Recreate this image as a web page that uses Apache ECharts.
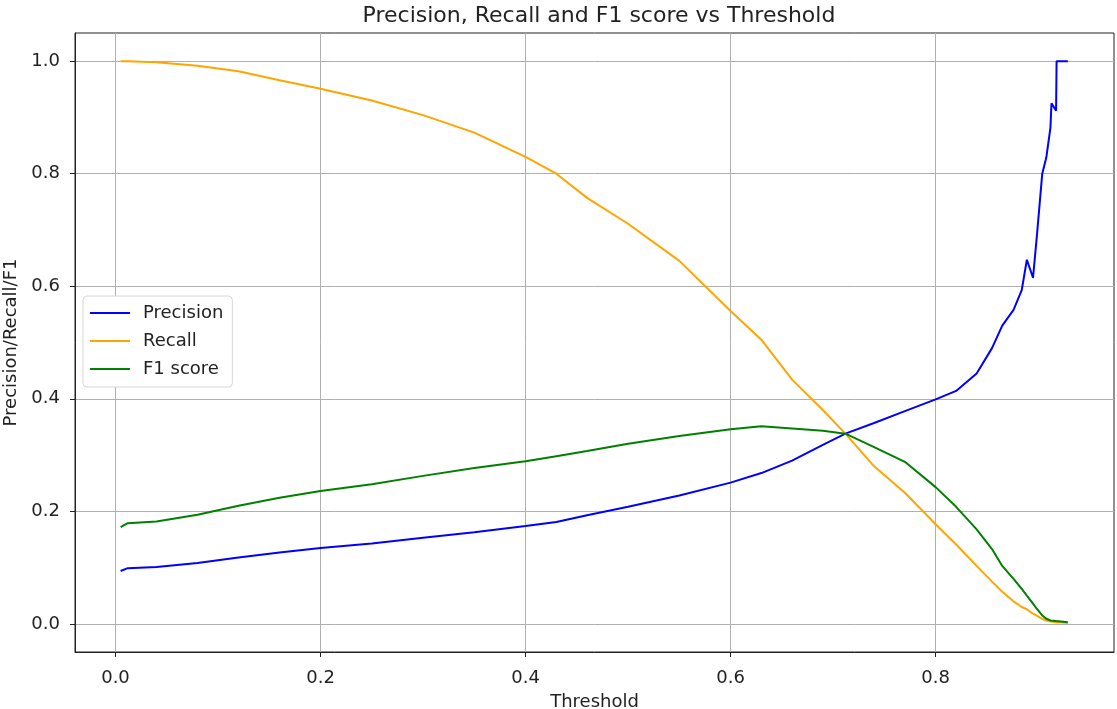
<!DOCTYPE html>
<html>
<head>
<meta charset="utf-8">
<script src="https://cdn.jsdelivr.net/npm/echarts@6/dist/echarts.min.js"></script>
<style>
  html, body { margin: 0; padding: 0; background: #fff; }
  #chart { width: 1117px; height: 709px; }
</style>
</head>
<body>
<div id="chart"></div>
<script>
// thresholds and the three curves
const thresholds = [0.005, 0.012, 0.04, 0.08, 0.12, 0.16, 0.2, 0.25, 0.3, 0.35, 0.4, 0.43, 0.46, 0.5, 0.55, 0.6, 0.63, 0.66, 0.69, 0.712, 0.74, 0.77, 0.8, 0.82, 0.84, 0.855, 0.865, 0.876, 0.884, 0.889, 0.895, 0.899, 0.904, 0.908, 0.912, 0.913, 0.9175, 0.918, 0.929]
const precision = [0.094, 0.099, 0.101, 0.108, 0.118, 0.127, 0.135, 0.143, 0.153, 0.163, 0.174, 0.181, 0.193, 0.208, 0.228, 0.251, 0.268, 0.290, 0.318, 0.338, 0.357, 0.378, 0.399, 0.414, 0.445, 0.490, 0.530, 0.558, 0.593, 0.647, 0.615, 0.694, 0.800, 0.829, 0.882, 0.925, 0.912, 1.000, 1.000]
const recall = [1.000, 1.000, 0.998, 0.992, 0.982, 0.966, 0.951, 0.930, 0.904, 0.873, 0.830, 0.800, 0.757, 0.711, 0.645, 0.556, 0.505, 0.434, 0.380, 0.338, 0.280, 0.233, 0.177, 0.141, 0.103, 0.075, 0.057, 0.040, 0.030, 0.026, 0.018, 0.014, 0.009, 0.006, 0.004, 0.004, 0.003, 0.002, 0.002]
const f1 = [0.172, 0.179, 0.182, 0.194, 0.210, 0.224, 0.236, 0.248, 0.263, 0.277, 0.289, 0.298, 0.307, 0.320, 0.334, 0.346, 0.351, 0.347, 0.343, 0.338, 0.314, 0.288, 0.243, 0.208, 0.168, 0.133, 0.103, 0.080, 0.062, 0.050, 0.036, 0.026, 0.015, 0.009, 0.006, 0.005, 0.005, 0.004, 0.003]
const xTicks = [0, 0.2, 0.4, 0.6, 0.8]
const yTicks = [0, 0.2, 0.4, 0.6, 0.8, 1.0]

function pairs (ys) {
  return thresholds.map((t, i) => [t, ys[i]])
}

let chartDom = document.getElementById('chart')
let myChart = echarts.init(chartDom)
const font = 'DejaVu Sans'
const gridColor = '#b0b0b0'
const ink = '#222'

let option = {
  animation: false,
  textStyle: { fontFamily: font },
  title: {
    text: 'Precision, Recall and F1 score vs Threshold',
    left: 594,
    textAlign: 'center',
    top: 0,
    textStyle: { fontFamily: font, fontSize: 22, fontWeight: 'normal', color: ink }
  },
  legend: {
    orient: 'vertical',
    left: 83,
    top: 296,
    icon: 'rect',
    itemWidth: 40,
    itemHeight: 2,
    itemGap: 10,
    padding: [8, 9, 9, 7],
    backgroundColor: '#fff',
    borderColor: '#d6d6d6',
    borderWidth: 1,
    borderRadius: 4,
    textStyle: { fontFamily: font, fontSize: 18, color: ink, padding: [0, 0, 0, 8] },
    data: ['Precision', 'Recall', 'F1 score']
  },
  grid: {
    left: 75,
    right: 3,
    top: 33,
    bottom: 57,
    outerBoundsMode: 'none',
    containLabel: false,
    show: true,
    borderColor: ink,
    borderWidth: 1
  },
  xAxis: {
    type: 'value',
    min: -0.0395,
    max: 0.974,
    name: 'Threshold',
    nameLocation: 'middle',
    nameGap: 41,
    nameTextStyle: { fontFamily: font, fontSize: 18, color: ink },
    axisLine: { show: true, onZero: false, lineStyle: { color: ink } },
    axisTick: { show: true, length: 5, customValues: xTicks, lineStyle: { color: ink } },
    axisLabel: {
      customValues: xTicks,
      margin: 17,
      fontSize: 18,
      color: ink,
      formatter: v => v.toFixed(1)
    },
    splitLine: { show: true, lineStyle: { color: gridColor, width: 1 } }
  },
  yAxis: {
    type: 'value',
    min: -0.05,
    max: 1.05,
    name: 'Precision/Recall/F1',
    nameLocation: 'middle',
    nameGap: 42,
    nameTextStyle: { fontFamily: font, fontSize: 18, color: ink },
    axisLine: { show: true, onZero: false, lineStyle: { color: ink } },
    axisTick: { show: true, length: 5, customValues: yTicks, lineStyle: { color: ink } },
    axisLabel: {
      customValues: yTicks,
      margin: 15,
      fontSize: 18,
      color: ink,
      formatter: v => v.toFixed(1)
    },
    splitLine: { show: true, lineStyle: { color: gridColor, width: 1 } }
  },
  series: [
    {
      name: 'Precision',
      type: 'line',
      showSymbol: false,
      color: '#0000ff',
      lineStyle: { width: 2 },
      data: pairs(precision)
    },
    {
      name: 'Recall',
      type: 'line',
      showSymbol: false,
      color: '#ffa500',
      lineStyle: { width: 2 },
      data: pairs(recall)
    },
    {
      name: 'F1 score',
      type: 'line',
      showSymbol: false,
      color: '#008000',
      lineStyle: { width: 2 },
      data: pairs(f1)
    }
  ]
}
option && myChart.setOption(option)
</script>
</body>
</html>
